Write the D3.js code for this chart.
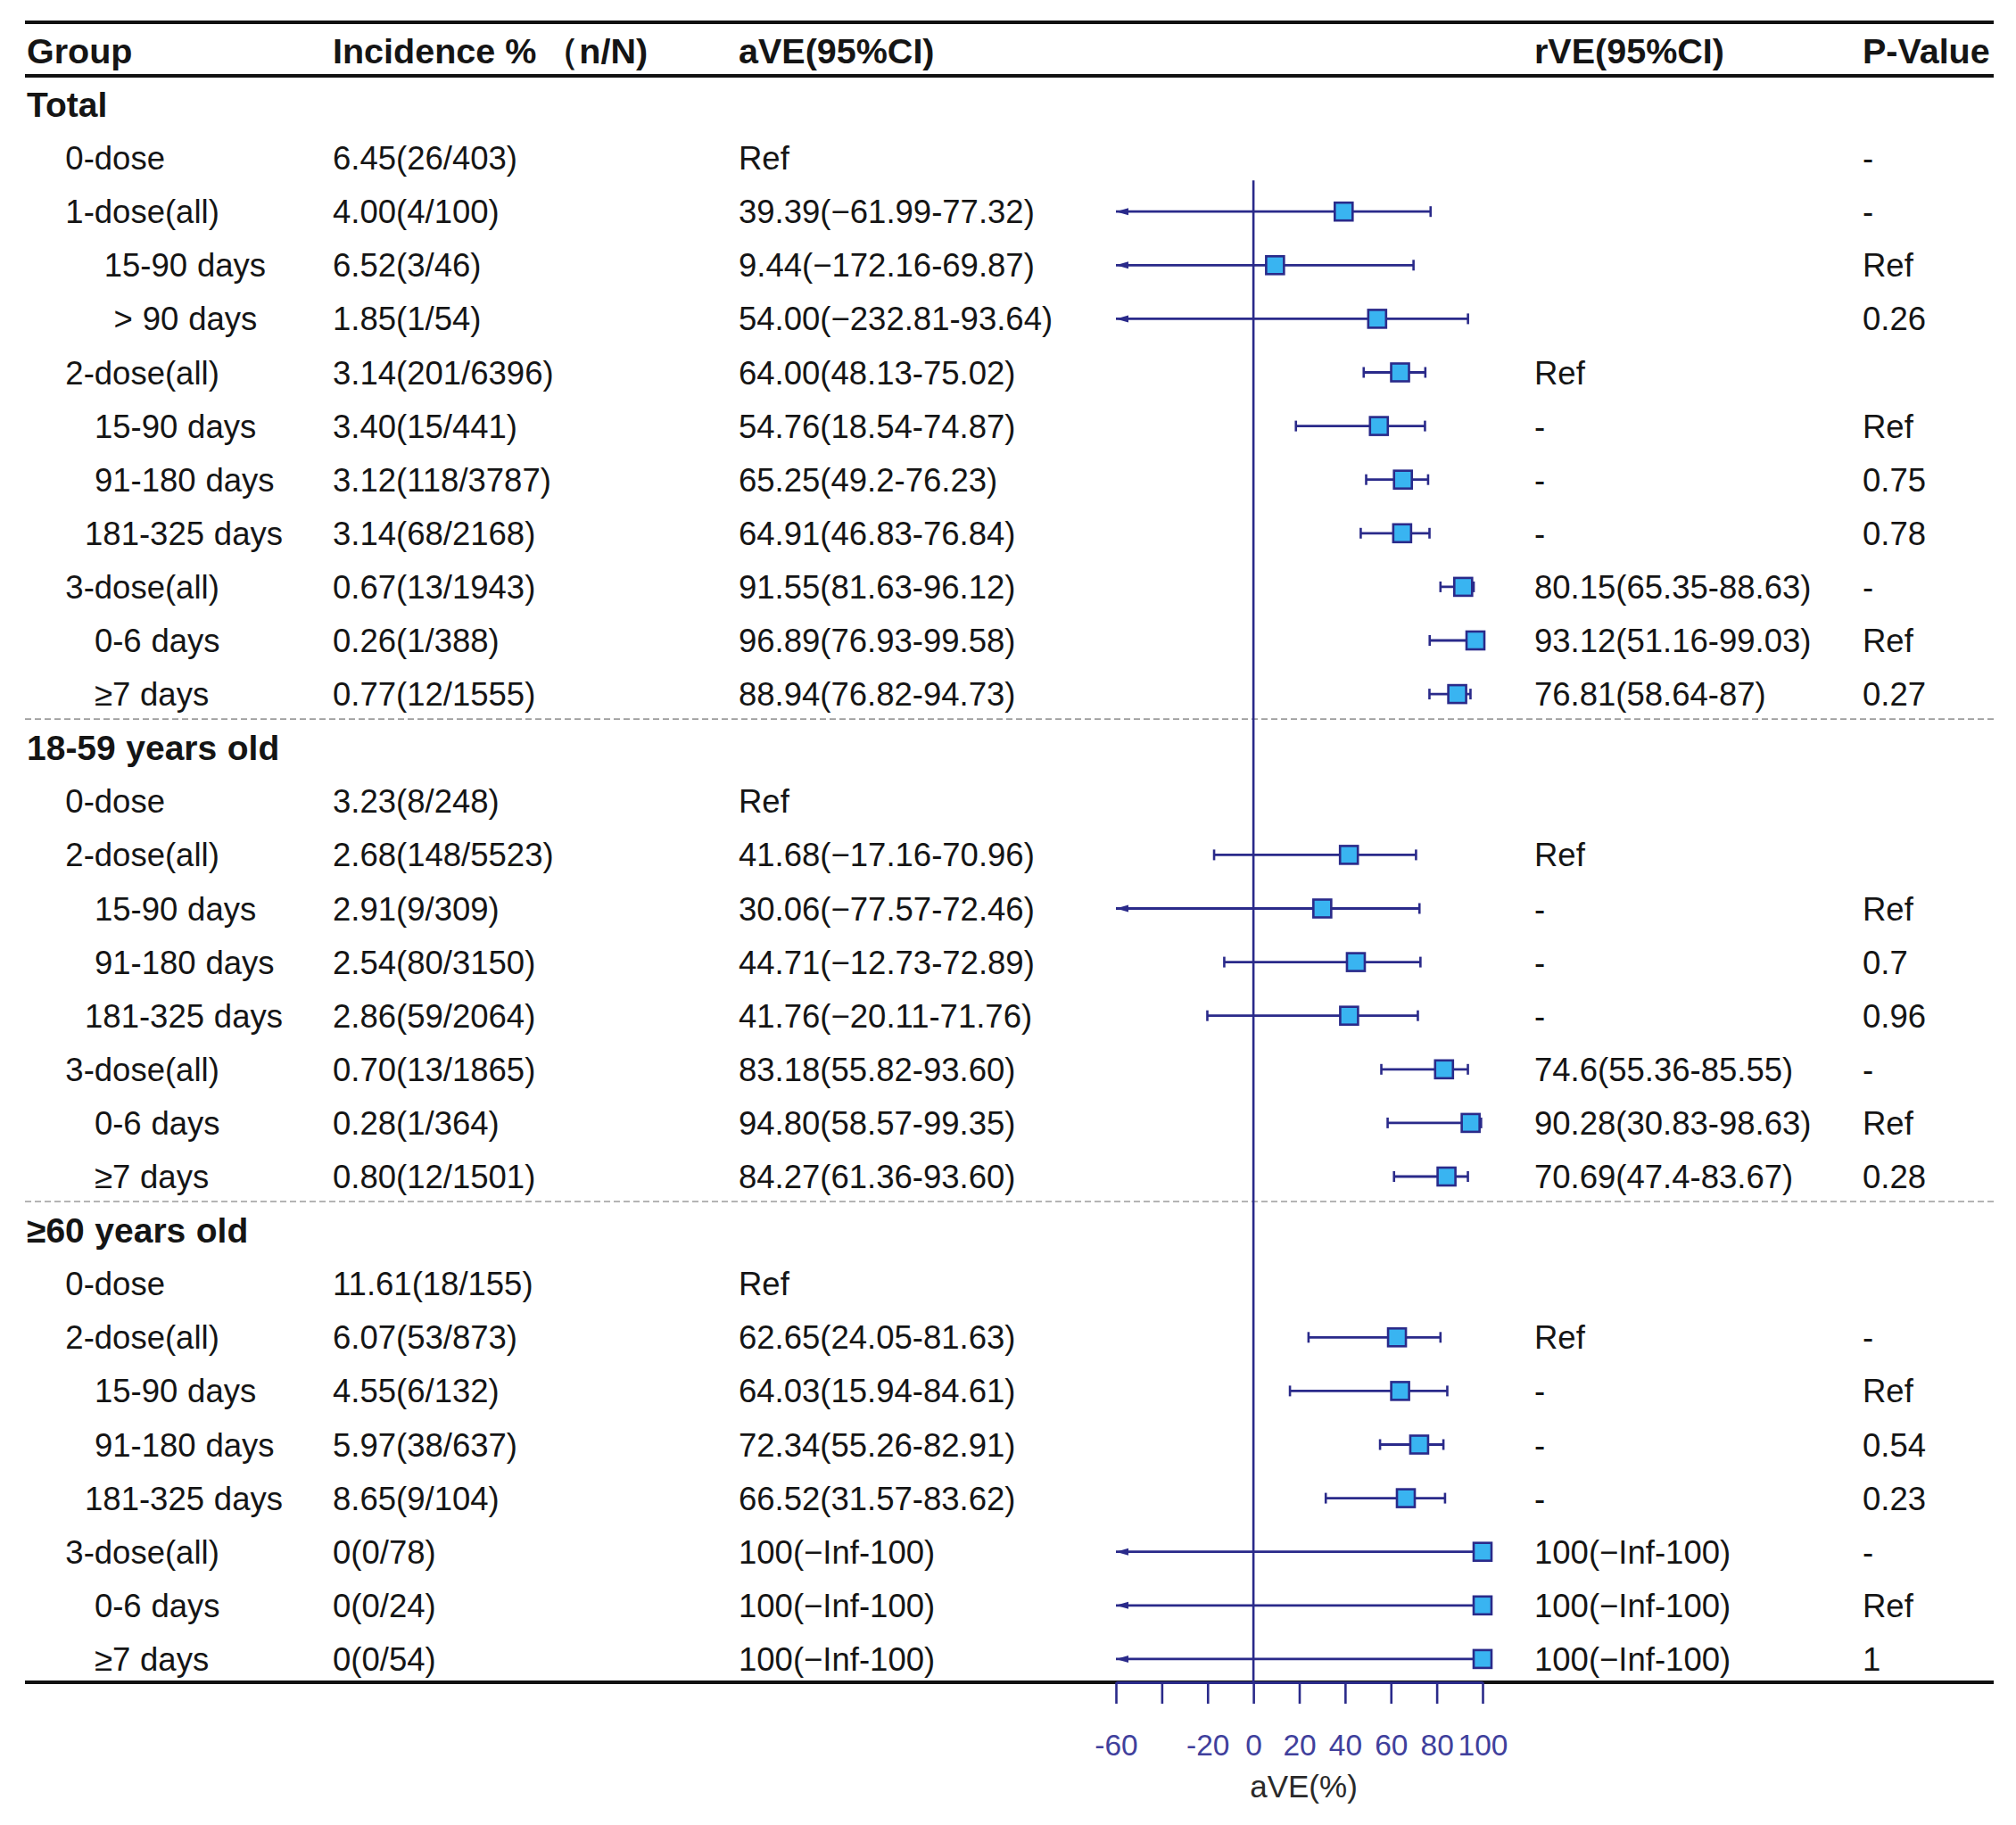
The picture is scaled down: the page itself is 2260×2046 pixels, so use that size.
<!DOCTYPE html>
<html>
<head>
<meta charset="utf-8">
<script src="https://cdn.jsdelivr.net/npm/d3@7"></script>
<style>
  html, body { margin: 0; padding: 0; background: #ffffff; }
  svg text { white-space: pre; }
</style>
</head>
<body>
<svg id="chart" width="2260" height="2046" xml:space="preserve"></svg>
<script>
// ---------------- data ----------------
const headers = ["Group", "Incidence %（n/N)", "aVE(95%CI)", "rVE(95%CI)", "P-Value"];

const groups = [
  "Total",
  "    0-dose",
  "    1-dose(all)",
  "        15-90 days",
  "         > 90 days",
  "    2-dose(all)",
  "       15-90 days",
  "       91-180 days",
  "      181-325 days",
  "    3-dose(all)",
  "       0-6 days",
  "       ≥7 days",
  "18-59 years old",
  "    0-dose",
  "    2-dose(all)",
  "       15-90 days",
  "       91-180 days",
  "      181-325 days",
  "    3-dose(all)",
  "       0-6 days",
  "       ≥7 days",
  "≥60 years old",
  "    0-dose",
  "    2-dose(all)",
  "       15-90 days",
  "       91-180 days",
  "      181-325 days",
  "    3-dose(all)",
  "       0-6 days",
  "       ≥7 days"
];

const incidence = [
  "", "6.45(26/403)", "4.00(4/100)", "6.52(3/46)", "1.85(1/54)", "3.14(201/6396)",
  "3.40(15/441)", "3.12(118/3787)", "3.14(68/2168)", "0.67(13/1943)", "0.26(1/388)", "0.77(12/1555)",
  "", "3.23(8/248)", "2.68(148/5523)", "2.91(9/309)", "2.54(80/3150)", "2.86(59/2064)",
  "0.70(13/1865)", "0.28(1/364)", "0.80(12/1501)",
  "", "11.61(18/155)", "6.07(53/873)", "4.55(6/132)", "5.97(38/637)", "8.65(9/104)",
  "0(0/78)", "0(0/24)", "0(0/54)"
];

const aveText = [
  "", "Ref", "39.39(−61.99-77.32)", "9.44(−172.16-69.87)", "54.00(−232.81-93.64)", "64.00(48.13-75.02)",
  "54.76(18.54-74.87)", "65.25(49.2-76.23)", "64.91(46.83-76.84)", "91.55(81.63-96.12)", "96.89(76.93-99.58)", "88.94(76.82-94.73)",
  "", "Ref", "41.68(−17.16-70.96)", "30.06(−77.57-72.46)", "44.71(−12.73-72.89)", "41.76(−20.11-71.76)",
  "83.18(55.82-93.60)", "94.80(58.57-99.35)", "84.27(61.36-93.60)",
  "", "Ref", "62.65(24.05-81.63)", "64.03(15.94-84.61)", "72.34(55.26-82.91)", "66.52(31.57-83.62)",
  "100(−Inf-100)", "100(−Inf-100)", "100(−Inf-100)"
];

const rveText = [
  "", "", "", "", "", "Ref",
  "-", "-", "-", "80.15(65.35-88.63)", "93.12(51.16-99.03)", "76.81(58.64-87)",
  "", "", "Ref", "-", "-", "-",
  "74.6(55.36-85.55)", "90.28(30.83-98.63)", "70.69(47.4-83.67)",
  "", "", "Ref", "-", "-", "-",
  "100(−Inf-100)", "100(−Inf-100)", "100(−Inf-100)"
];

const pValue = [
  "", "-", "-", "Ref", "0.26", "",
  "Ref", "0.75", "0.78", "-", "Ref", "0.27",
  "", "", "", "Ref", "0.7", "0.96",
  "-", "Ref", "0.28",
  "", "", "-", "Ref", "0.54", "0.23",
  "-", "Ref", "1"
];

const aveEst = [
  null, null, 39.39, 9.44, 54.00, 64.00, 54.76, 65.25, 64.91, 91.55, 96.89, 88.94,
  null, null, 41.68, 30.06, 44.71, 41.76, 83.18, 94.80, 84.27,
  null, null, 62.65, 64.03, 72.34, 66.52, 100, 100, 100
];
const aveLow = [
  null, null, -61.99, -172.16, -232.81, 48.13, 18.54, 49.2, 46.83, 81.63, 76.93, 76.82,
  null, null, -17.16, -77.57, -12.73, -20.11, 55.82, 58.57, 61.36,
  null, null, 24.05, 15.94, 55.26, 31.57, -Infinity, -Infinity, -Infinity
];
const aveHigh = [
  null, null, 77.32, 69.87, 93.64, 75.02, 74.87, 76.23, 76.84, 96.12, 99.58, 94.73,
  null, null, 70.96, 72.46, 72.89, 71.76, 93.60, 99.35, 93.60,
  null, null, 81.63, 84.61, 82.91, 83.62, 100, 100, 100
];

const tickValues = [-60, -40, -20, 0, 20, 40, 60, 80, 100];
const tickLabels = ["-60", "", "-20", "0", "20", "40", "60", "80", "100"];
const axisTitle = "aVE(%)";

// ---------------- layout ----------------
const W = 2260, H = 2046;
const FONT = "'Liberation Sans', Arial, Helvetica, sans-serif";
const tableLeft = 28, tableRight = 2235;
const colX = [30, 373, 828, 1720, 2088];
const navy = "#2a2a8a";
const tickColor = "#40409c";
const boxFill = "#39b4f1";
const textColor = "#151515";

const svg = d3.select("#chart");
svg.append("rect").attr("width", W).attr("height", H).attr("fill", "#fff");

const n = groups.length;
const y = d3.scalePoint().domain(d3.range(n)).range([117, 117 + 29 * 60.1]);
const step = y.step();
const x = d3.scaleLinear().domain([-60, 100]).range([1251, 1662]);

const isSection = d => !d.startsWith(" ");

// table rules
const topLineY = 25, headLineY = 85, bottomLineY = 1886;
[topLineY, headLineY, bottomLineY].forEach(yy => {
  svg.append("line").attr("x1", tableLeft).attr("x2", tableRight)
    .attr("y1", yy).attr("y2", yy).attr("stroke", "#111").attr("stroke-width", 4);
});

// dashed separators before each section except the first
groups.forEach((g, i) => {
  if (i > 0 && isSection(g)) {
    const yy = y(i) - step / 2 - 2;
    svg.append("line").attr("x1", tableLeft).attr("x2", tableRight)
      .attr("y1", yy).attr("y2", yy)
      .attr("stroke", "#9c9c9c").attr("stroke-width", 1.6)
      .attr("stroke-dasharray", "7,4");
  }
});

// header texts (full-width parenthesis gets a little extra room, as in the original)
const hdr = svg.append("g").selectAll("text").data(headers).join("text")
  .attr("x", (d, i) => colX[i])
  .attr("y", 71)
  .attr("font-family", FONT)
  .attr("font-size", 39.5)
  .attr("font-weight", "bold")
  .attr("fill", textColor);
hdr.each(function(d) {
  const t = d3.select(this);
  const k = d.indexOf("（");
  if (k < 0) { t.text(d); return; }
  t.append("tspan").text(d.slice(0, k));
  t.append("tspan").attr("dx", 8).text(d.slice(k));
});

// body text columns
const columns = [groups, incidence, aveText, rveText, pValue];
columns.forEach((col, c) => {
  svg.append("g").selectAll("text").data(col).join("text")
    .attr("x", colX[c])
    .attr("y", (d, i) => y(i) + (c === 0 && isSection(d) ? 14 : 13))
    .attr("font-family", FONT)
    .attr("font-size", (d) => (c === 0 && isSection(d)) ? 39 : 36.5)
    .attr("font-weight", (d) => (c === 0 && isSection(d)) ? "bold" : "normal")
    .attr("word-spacing", c === 0 ? 0.7 : 0)
    .attr("fill", textColor)
    .text(d => d);
});

// reference line at 0
svg.append("line")
  .attr("x1", x(0)).attr("x2", x(0))
  .attr("y1", y(1) + step * 0.42).attr("y2", bottomLineY)
  .attr("stroke", navy).attr("stroke-width", 2.6);

// forest marks
const rows = d3.range(n).filter(i => aveEst[i] !== null);
const [dMin, dMax] = x.domain();
const capH = 6;
const g = svg.append("g");
rows.forEach(i => {
  const yy = y(i);
  const lo = aveLow[i], hi = aveHigh[i];
  const loC = Math.max(lo, dMin), hiC = Math.min(hi, dMax);
  g.append("line").attr("x1", x(loC)).attr("x2", x(hiC)).attr("y1", yy).attr("y2", yy)
    .attr("stroke", navy).attr("stroke-width", 2.8);
  if (lo < dMin) {
    const ax = x(dMin);
    g.append("path")
      .attr("d", `M${ax},${yy} L${ax + 14},${yy - 4} L${ax + 14},${yy + 4} Z`)
      .attr("fill", navy);
  } else {
    g.append("line").attr("x1", x(lo)).attr("x2", x(lo)).attr("y1", yy - capH).attr("y2", yy + capH)
      .attr("stroke", navy).attr("stroke-width", 2.6);
  }
  if (hi <= dMax) {
    g.append("line").attr("x1", x(hi)).attr("x2", x(hi)).attr("y1", yy - capH).attr("y2", yy + capH)
      .attr("stroke", navy).attr("stroke-width", 2.6);
  }
});
const bs = 20;
g.selectAll("rect.box").data(rows).join("rect")
  .attr("class", "box")
  .attr("x", i => x(aveEst[i]) - bs / 2)
  .attr("y", i => y(i) - bs / 2)
  .attr("width", bs).attr("height", bs)
  .attr("fill", boxFill)
  .attr("stroke", navy).attr("stroke-width", 2.6);

// x axis
const axis = d3.axisBottom(x)
  .tickValues(tickValues)
  .tickFormat((d, i) => tickLabels[i])
  .tickSizeInner(24)
  .tickSizeOuter(0)
  .tickPadding(34);
const ax = svg.append("g").attr("transform", `translate(0,${bottomLineY})`).call(axis);
ax.select(".domain").attr("stroke", navy).attr("stroke-width", 3);
ax.selectAll(".tick line").attr("stroke", navy).attr("stroke-width", 2.6);
ax.selectAll(".tick text")
  .attr("fill", tickColor)
  .attr("font-family", FONT)
  .attr("font-size", 33.5);

svg.append("text")
  .attr("x", (x.range()[0] + x.range()[1]) / 2 + 5)
  .attr("y", 2015)
  .attr("text-anchor", "middle")
  .attr("font-family", FONT)
  .attr("font-size", 35)
  .attr("fill", "#2a2a2a")
  .text(axisTitle);
</script>
</body>
</html>
